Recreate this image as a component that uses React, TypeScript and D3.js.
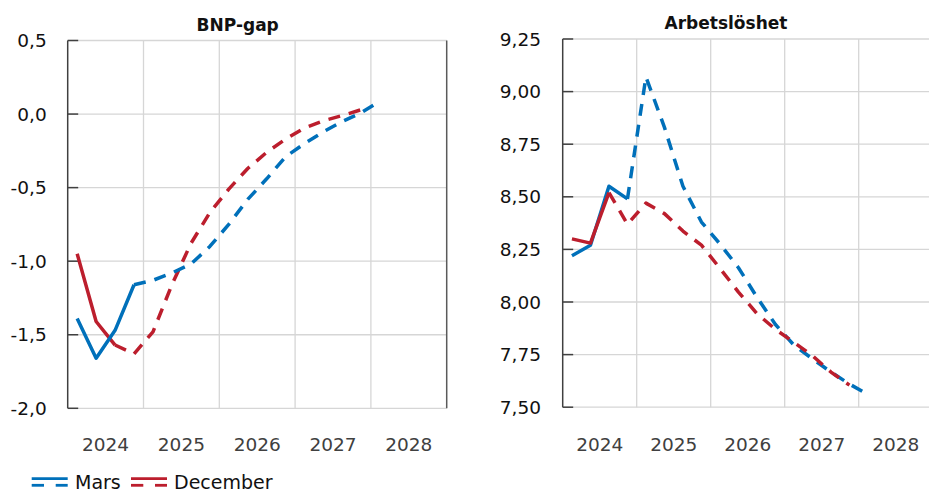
import React from "react";
import * as d3 from "d3";

// ---- data (quarterly, index 0 = 2024 Q1) ----
const years = [2024, 2025, 2026, 2027, 2028];
const gapTicks = [-2, -1.5, -1, -0.5, 0, 0.5];
const unempTicks = [7.5, 7.75, 8, 8.25, 8.5, 8.75, 9, 9.25];

const gapMarsOutcomeStart = 0;
const gapMarsOutcome = [-1.39, -1.66, -1.47, -1.16];
const gapMarsForecastStart = 3;
const gapMarsForecast = [-1.16, -1.13, -1.08, -1.02, -0.9, -0.75, -0.58, -0.44, -0.29, -0.2, -0.12, -0.05, 0.01, 0.09];

const gapDecOutcomeStart = 0;
const gapDecOutcome = [-0.95, -1.41, -1.57];
const gapDecForecastStart = 2;
const gapDecForecast = [-1.57, -1.63, -1.48, -1.16, -0.88, -0.67, -0.51, -0.37, -0.26, -0.17, -0.095, -0.045, -0.01, 0.03];

const unMarsOutcomeStart = 0;
const unMarsOutcome = [8.22, 8.27, 8.55, 8.49];
const unMarsForecastStart = 3;
const unMarsForecast = [8.49, 9.07, 8.83, 8.55, 8.38, 8.276, 8.163, 8.023, 7.893, 7.795, 7.73, 7.667, 7.61, 7.56];

const unDecOutcomeStart = 0;
const unDecOutcome = [8.3, 8.28, 8.52];
const unDecForecastStart = 2;
const unDecForecast = [8.52, 8.37, 8.47, 8.42, 8.337, 8.27, 8.16, 8.047, 7.945, 7.87, 7.808, 7.745, 7.667, 7.605];

const seriesNames = ["Mars", "December"];
const BLUE = "#0070BA";
const RED = "#BC1E2D";

const locale = d3.formatLocale({ decimal: ",", thousands: " ", grouping: [3], currency: ["", ""], minus: "-" });
const f1 = locale.format(".1f");
const f2 = locale.format(".2f");

const FONT = "'DejaVu Sans', sans-serif";

type PanelProps = {
  title: string;
  titleX: number;
  titleY: number;
  x0: number;
  x1: number;
  yTop: number;
  yBot: number;
  domain: [number, number];
  ticks: number[];
  fmt: (v: number) => string;
  labelRight: number;
  rightBorder: boolean;
  series: { start: number; values: number[]; color: string; dashed: boolean }[];
  clipId: string;
};

function Panel(p: PanelProps) {
  const x = d3.scaleLinear().domain([2024, 2029]).range([p.x0, p.x1]);
  const y = d3.scaleLinear().domain(p.domain).range([p.yBot, p.yTop]);
  const qx = (i: number) => x(2024 + (i + 0.5) / 4);
  const line = d3
    .line<[number, number]>()
    .x((d) => d[0])
    .y((d) => d[1]);
  const gridColor = "#D6D6D6";
  const axisColor = "#404040";
  return (
    <g>
      <text x={p.titleX} y={p.titleY} textAnchor="middle" fontFamily={FONT} fontWeight="bold" fontSize={17} fill="#111">
        {p.title}
      </text>
      {/* horizontal grid */}
      {p.ticks.map((t) => (
        <line key={"h" + t} x1={p.x0} x2={p.x1} y1={y(t)} y2={y(t)} stroke={gridColor} strokeWidth={1.3} />
      ))}
      {/* vertical grid */}
      {years.slice(1).map((yr) => (
        <line key={"v" + yr} x1={x(yr)} x2={x(yr)} y1={p.yTop} y2={p.yBot} stroke={gridColor} strokeWidth={1.3} />
      ))}
      {p.rightBorder && (
        <line x1={x(2029)} x2={x(2029)} y1={p.yTop} y2={p.yBot} stroke="#5a5a5a" strokeWidth={1.5} />
      )}
      {/* y axis */}
      <line x1={p.x0} x2={p.x0} y1={p.yTop} y2={p.yBot} stroke={axisColor} strokeWidth={1.5} />
      {p.ticks.map((t) => (
        <g key={"t" + t}>
          <line x1={p.x0} x2={p.x0 + 10.5} y1={y(t)} y2={y(t)} stroke={axisColor} strokeWidth={1.5} />
          <text x={p.labelRight} y={y(t) + 6.5} textAnchor="end" fontFamily={FONT} fontSize={18.5} fill="#111">
            {p.fmt(t)}
          </text>
        </g>
      ))}
      {years.map((yr) => (
        <text key={"x" + yr} x={x(yr + 0.5)} y={451} textAnchor="middle" fontFamily={FONT} fontSize={18.5} fill="#404040">
          {yr}
        </text>
      ))}
      <defs>
        <clipPath id={p.clipId}>
          <rect x={p.x0} y={p.yTop - 20} width={p.x1 - p.x0} height={p.yBot - p.yTop + 40} />
        </clipPath>
      </defs>
      <g clipPath={`url(#${p.clipId})`}>
        {p.series.map((s, k) => (
          <path
            key={k}
            d={line(s.values.map((v, i) => [qx(s.start + i), y(v)] as [number, number])) || ""}
            fill="none"
            stroke={s.color}
            strokeWidth={3.5}
            strokeDasharray={s.dashed ? "12,9" : undefined}
            strokeLinejoin="round"
          />
        ))}
      </g>
    </g>
  );
}

export default function App() {
  const legendItems = [
    { name: seriesNames[0], color: BLUE, x: 31.7, tx: 75 },
    { name: seriesNames[1], color: RED, x: 131, tx: 174 },
  ];
  return (
    <svg width={929} height={494} style={{ position: "absolute", left: 0, top: 0, background: "#fff" }}>
      <rect x={0} y={0} width={929} height={494} fill="#fff" />
      <Panel
        title="BNP-gap"
        titleX={237.7}
        titleY={31}
        x0={67.7}
        x1={446.7}
        yTop={40.5}
        yBot={408.3}
        domain={[-2, 0.5]}
        ticks={gapTicks}
        fmt={f1}
        labelRight={46.7}
        rightBorder={true}
        clipId="c1"
        series={[
          { start: gapDecOutcomeStart, values: gapDecOutcome, color: RED, dashed: false },
          { start: gapDecForecastStart, values: gapDecForecast, color: RED, dashed: true },
          { start: gapMarsOutcomeStart, values: gapMarsOutcome, color: BLUE, dashed: false },
          { start: gapMarsForecastStart, values: gapMarsForecast, color: BLUE, dashed: true },
        ]}
      />
      <Panel
        title="Arbetslöshet"
        titleX={726}
        titleY={29}
        x0={562.7}
        x1={932.7}
        yTop={39}
        yBot={407.2}
        domain={[7.5, 9.25]}
        ticks={unempTicks}
        fmt={f2}
        labelRight={541}
        rightBorder={false}
        clipId="c2"
        series={[
          { start: unMarsForecastStart, values: unMarsForecast, color: BLUE, dashed: true },
          { start: unDecForecastStart, values: unDecForecast, color: RED, dashed: true },
          { start: unMarsOutcomeStart, values: unMarsOutcome, color: BLUE, dashed: false },
          { start: unDecOutcomeStart, values: unDecOutcome, color: RED, dashed: false },
        ]}
      />
      {legendItems.map((it) => (
        <g key={it.name}>
          <line x1={it.x} x2={it.x + 36} y1={478.7} y2={478.7} stroke={it.color} strokeWidth={2.8} />
          <line x1={it.x} x2={it.x + 12.3} y1={485.3} y2={485.3} stroke={it.color} strokeWidth={2.8} />
          <line x1={it.x + 24} x2={it.x + 36} y1={485.3} y2={485.3} stroke={it.color} strokeWidth={2.8} />
          <text x={it.tx} y={489.3} fontFamily={FONT} fontSize={19} fill="#111">
            {it.name}
          </text>
        </g>
      ))}
    </svg>
  );
}
